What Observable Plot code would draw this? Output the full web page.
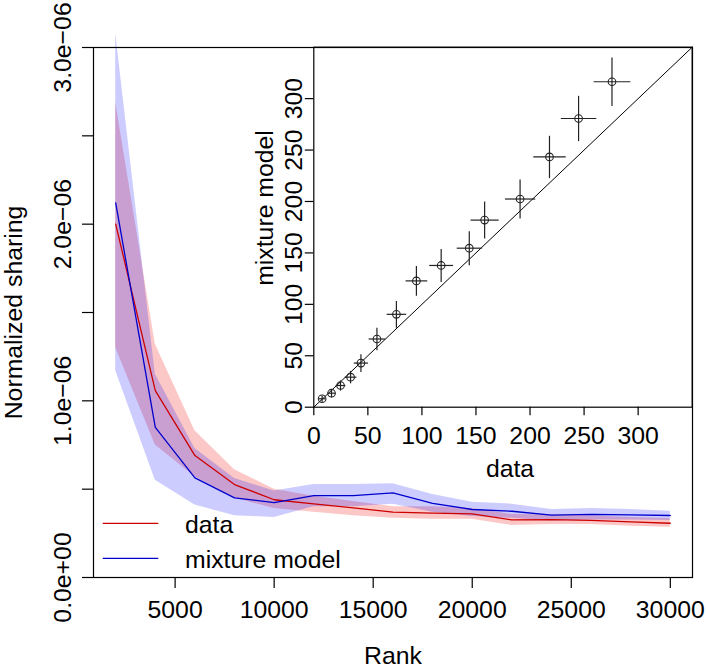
<!DOCTYPE html>
<html><head><meta charset="utf-8">
<script src="https://cdn.jsdelivr.net/npm/d3@7"></script>
<script src="https://cdn.jsdelivr.net/npm/@observablehq/plot@0.6"></script>
<style>
body{margin:0;background:#fff}
#chart{position:relative;width:706px;height:667px}
</style>
</head><body><div id="chart"></div>
<script>
// ---- main panel data (values in units of 1e-6) ----
const ranks      = [2000,4000,6000,8000,10000,12000,14000,16000,18000,20000,22000,24000,26000,28000,30000];
const dataMean   = [2.00,1.058,0.69,0.526,0.44,0.417,0.394,0.37,0.364,0.36,0.326,0.328,0.323,0.315,0.307];
const dataLo     = [1.30,0.75,0.57,0.45,0.39,0.37,0.35,0.335,0.33,0.33,0.295,0.30,0.30,0.29,0.285];
const dataHi     = [2.69,1.32,0.83,0.61,0.50,0.46,0.43,0.40,0.40,0.39,0.357,0.355,0.35,0.34,0.334];
const modelMean  = [2.12,0.85,0.564,0.451,0.424,0.464,0.464,0.479,0.42,0.385,0.375,0.353,0.357,0.355,0.351];
const modelLo    = [1.17,0.55,0.41,0.35,0.34,0.40,0.40,0.415,0.37,0.345,0.335,0.32,0.325,0.325,0.323];
const modelHi    = [3.08,1.15,0.73,0.56,0.49,0.526,0.526,0.53,0.47,0.426,0.415,0.385,0.39,0.385,0.375];
const xTicks     = [5000,10000,15000,20000,25000,30000];
const yTicks     = [0,0.5e-6,1e-6,1.5e-6,2e-6,2.5e-6,3e-6];
const yTickLabels= ["0.0e+00","","1.0e\u221206","","2.0e\u221206","","3.0e\u221206"];
const seriesNames= ["data","mixture model"];
const seriesColors=["#cd0000","#0000cd"];
const xTitle = "Rank", yTitle = "Normalized sharing";

// ---- inset data ----
const insetData  = [7.7,16.4,24.7,34.0,43.6,58.4,76.4,94.9,117.8,143.8,158.0,190.8,218.0,244.9,275.8];
const insetModel = [8.2,13.6,21.1,29.2,42.9,66.3,90.3,122.8,137.8,154.6,181.9,202.4,243.3,280.7,316.4];
const insetXErr  = [3,3.5,4.5,5.4,6.6,7.7,9,10,11,11.6,13,14,15,16.4,17];
const insetYErr  = [3,4,5,6,8.6,11,13,14.5,16,16.5,18,19,20.6,22,23.6];
const insetTicks = [0,50,100,150,200,250,300];
const insetLimit = [0,350];
const insetXTitle = "data", insetYTitle = "mixture model";

const FONT = "'Liberation Sans', Arial, Helvetica, sans-serif";
const FS = 24.8;

const rows = ranks.map((r,i)=>({rank:r, dm:dataMean[i]*1e-6, dlo:dataLo[i]*1e-6, dhi:dataHi[i]*1e-6,
  mm:modelMean[i]*1e-6, mlo:modelLo[i]*1e-6, mhi:modelHi[i]*1e-6}));
const labelOf = new Map(yTicks.map((t,i)=>[t,yTickLabels[i]]));

const W=706,H=667, mL=93, mR=14, mT=47, mB=90;
const main = Plot.plot({
  width:W, height:H, marginLeft:mL, marginRight:mR, marginTop:mT, marginBottom:mB,
  style:{fontFamily:FONT, fontSize:FS+"px", background:"transparent", color:"black", overflow:"visible"},
  x:{domain:[880,31120], axis:null},
  y:{domain:[0,3e-6], axis:null},
  marks:[
    Plot.areaY(rows,{x:"rank", y1:"dlo", y2:"dhi", fill:"#f00000", fillOpacity:0.22}),
    Plot.areaY(rows,{x:"rank", y1:"mlo", y2:"mhi", fill:"#0000ff", fillOpacity:0.2}),
    Plot.line(rows,{x:"rank", y:"dm", stroke:seriesColors[0], strokeWidth:1.3}),
    Plot.line(rows,{x:"rank", y:"mm", stroke:seriesColors[1], strokeWidth:1.3}),
    Plot.frame({stroke:"black", strokeWidth:1.2}),
    Plot.axisX({ticks:xTicks, tickFormat:d=>String(d), tickSize:11, tickPadding:12.3, lineAnchor:"top",
      fontSize:FS, strokeWidth:1.2, label:null}),
    Plot.axisY({ticks:yTicks, tickFormat:d=>labelOf.get(d) ?? "", tickSize:11, tickPadding:12, tickRotate:-90,
      textAnchor:"middle", lineAnchor:"bottom", fontSize:FS, strokeWidth:1.2, label:null}),
    Plot.text([xTitle],{frameAnchor:"bottom", dy:86, lineAnchor:"bottom", text:d=>d, fontSize:FS}),
    Plot.text([yTitle],{frameAnchor:"left", dx:-71.5, rotate:-90, textAnchor:"middle", lineAnchor:"bottom", text:d=>d, fontSize:FS})
  ]
});

// legend (bottom-left inside the frame, no box)
const lg = d3.select(main).append("g").attr("font-family",FONT).attr("font-size",FS).attr("text-anchor","start");
const bottom = H - mB;
seriesNames.forEach((name,i)=>{
  const ly = bottom - 53.7 + i*35;
  lg.append("line").attr("x1",mL+9.7).attr("x2",mL+65.3).attr("y1",ly).attr("y2",ly)
    .attr("stroke",seriesColors[i]).attr("stroke-width",1.3);
  lg.append("text").attr("x",mL+92).attr("y",ly+9.2).attr("fill","black").attr("text-anchor","start").text(name);
});

const pts = insetData.map((x,i)=>({x, y:insetModel[i], ex:insetXErr[i], ey:insetYErr[i]}));
const iL=313.3, iR=14.3, iT=46.7, iB=260.3;
const inset = Plot.plot({
  width:W, height:H, marginLeft:iL, marginRight:iR, marginTop:iT, marginBottom:iB,
  style:{fontFamily:FONT, fontSize:FS+"px", background:"transparent", color:"black", overflow:"visible",
    position:"absolute", left:"0px", top:"0px"},
  x:{domain:insetLimit, axis:null},
  y:{domain:insetLimit, axis:null},
  marks:[
    Plot.line(insetLimit,{x:d=>d, y:d=>d, stroke:"black", strokeWidth:1}),
    Plot.link(pts,{x1:d=>d.x-d.ex, x2:d=>d.x+d.ex, y1:"y", y2:"y", stroke:"#222", strokeWidth:1.2}),
    Plot.link(pts,{x1:"x", x2:"x", y1:d=>d.y-d.ey, y2:d=>d.y+d.ey, stroke:"#222", strokeWidth:1.2}),
    Plot.dot(pts,{x:"x", y:"y", r:3.8, stroke:"#222", fill:"none", strokeWidth:1.1}),
    Plot.frame({stroke:"black", strokeWidth:1.2}),
    Plot.axisX({ticks:insetTicks, tickFormat:d=>String(d), tickSize:8.5, tickPadding:10.2, lineAnchor:"top",
      fontSize:FS, strokeWidth:1.2, label:null}),
    Plot.axisY({ticks:insetTicks, tickFormat:d=>String(d), tickSize:8.5, tickPadding:3.1, tickRotate:-90,
      textAnchor:"middle", lineAnchor:"bottom", fontSize:FS, strokeWidth:1.2, label:null}),
    Plot.text([insetXTitle],{frameAnchor:"bottom", dx:7, dy:69.3, lineAnchor:"bottom", text:d=>d, fontSize:FS}),
    Plot.text([insetYTitle],{frameAnchor:"left", dx:-41.3, dy:-19.2, rotate:-90, textAnchor:"middle", lineAnchor:"bottom", text:d=>d, fontSize:FS})
  ]
});

const chart = document.getElementById("chart");
chart.appendChild(main);
chart.appendChild(inset);
</script></body></html>
